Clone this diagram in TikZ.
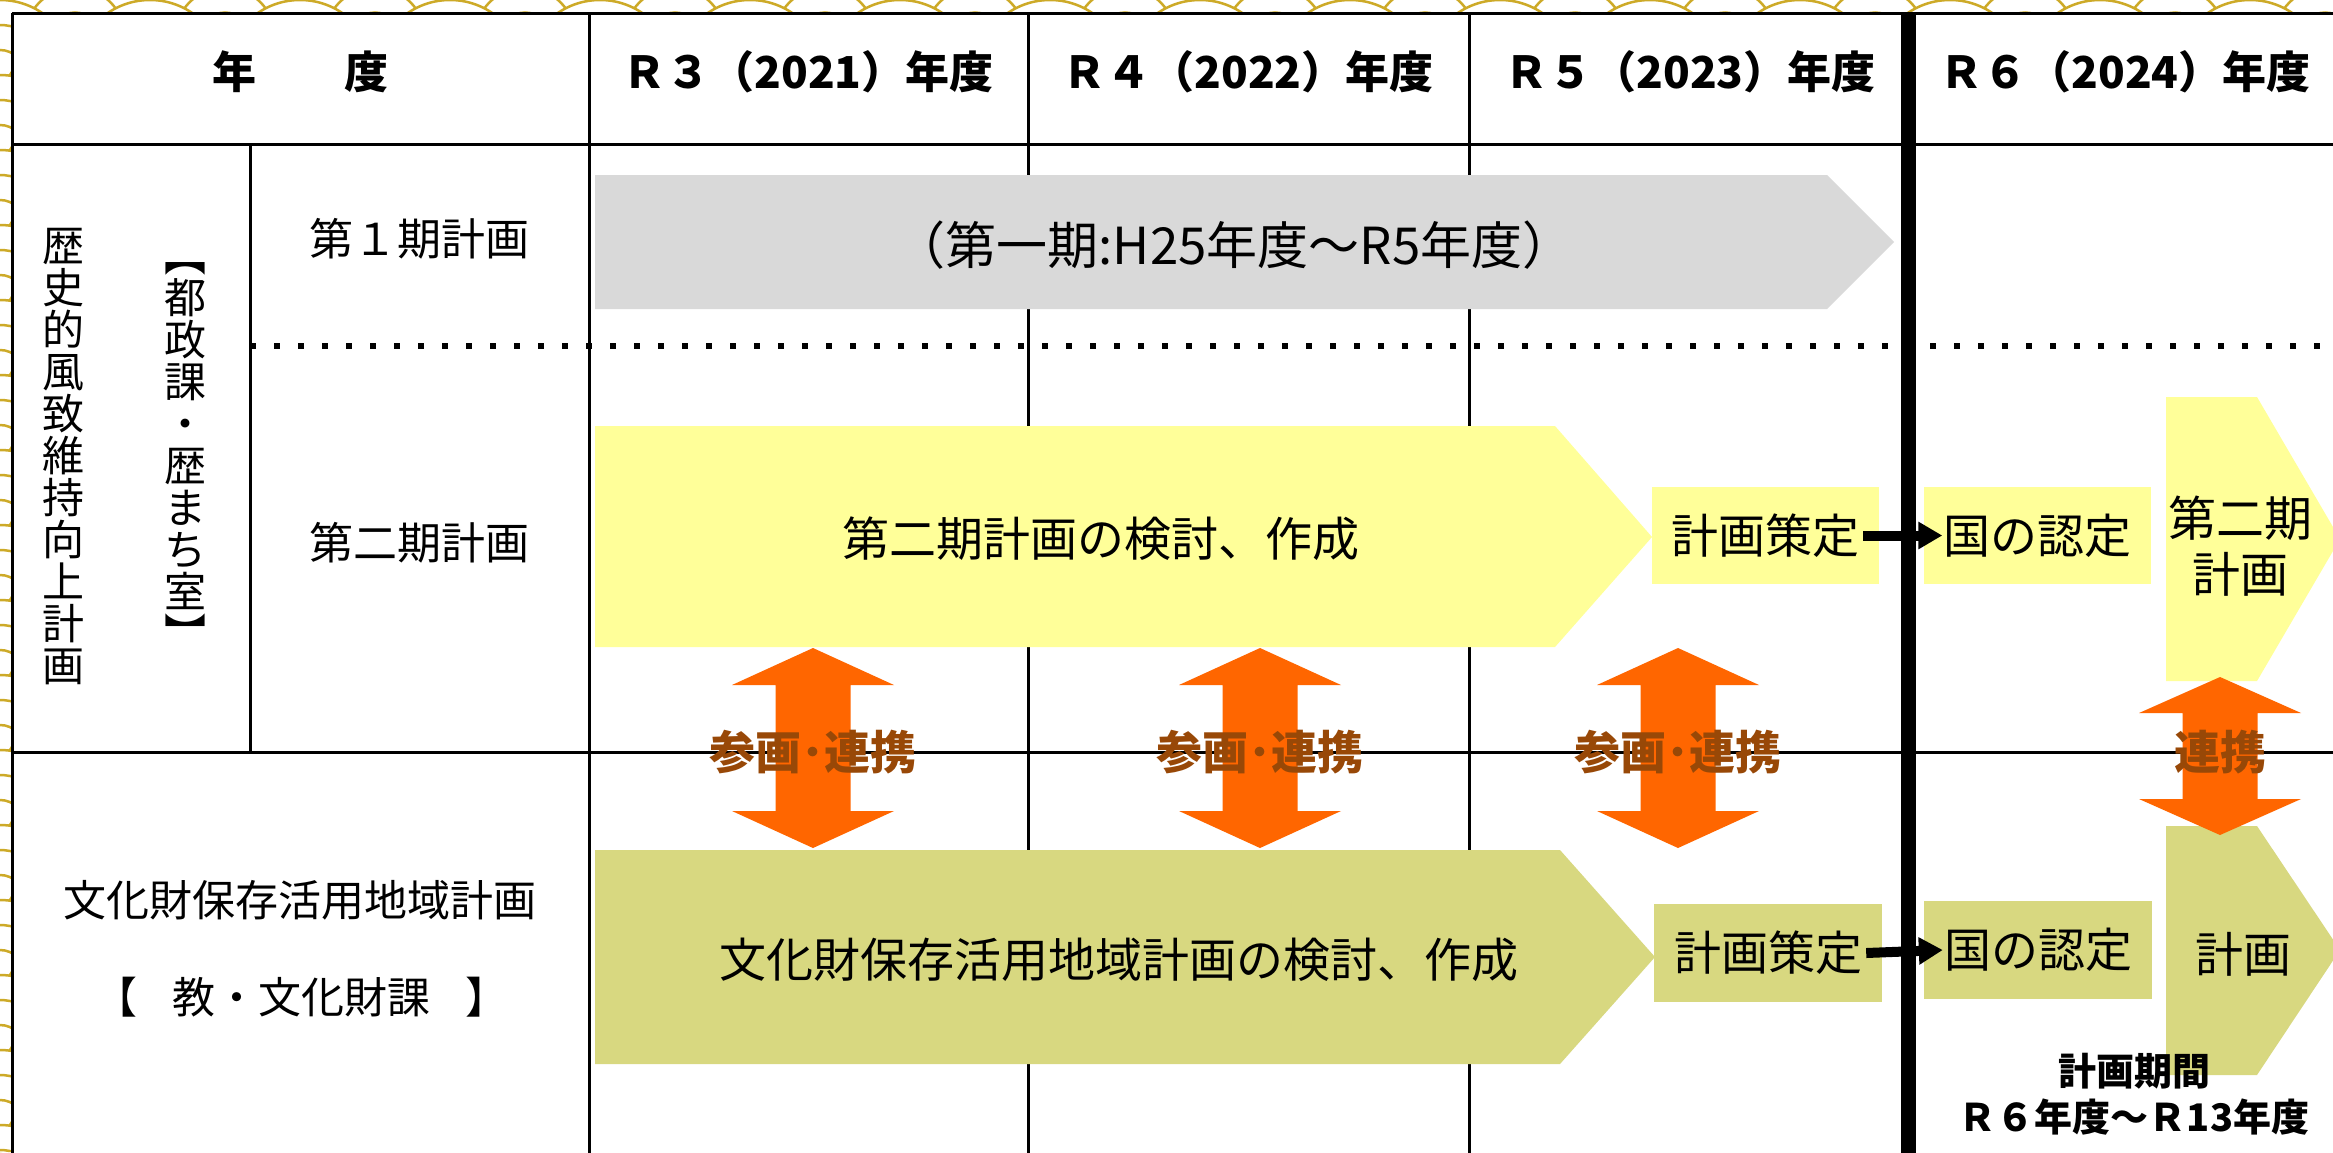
\documentclass[tikz,border=0pt]{standalone}
\usepackage{fontspec}
\setmainfont{Noto Sans CJK JP}
\usetikzlibrary{arrows.meta}
\definecolor{gold}{HTML}{CDAA28}
\definecolor{lgray}{HTML}{D9D9D9}
\definecolor{yell}{HTML}{FFFF99}
\definecolor{olv}{HTML}{D8D880}
\definecolor{orng}{HTML}{FF6600}
\definecolor{brn}{HTML}{984807}
\newcommand\orangedbl[4]{%
  \fill[orng] (#1,#2) -- ({#1+81},{#2+#4}) -- ({#1+37.5},{#2+#4}) -- ({#1+37.5},{#3-#4}) -- ({#1+81},{#3-#4}) -- (#1,#3) -- ({#1-81},{#3-#4}) -- ({#1-37.5},{#3-#4}) -- ({#1-37.5},{#2+#4}) -- ({#1-81},{#2+#4}) -- cycle;}
\begin{document}
\begin{tikzpicture}[x=1pt,y=-1pt,
  gridline/.style={line width=3pt,black},
  lbl/.style={inner sep=0pt,font=\fontsize{44}{44}\selectfont},
  hdr/.style={inner sep=0pt,font=\fontsize{44}{44}\selectfont\bfseries},
  big/.style={inner sep=0pt,font=\fontsize{47}{47}\selectfont},
  stepbox/.style={inner sep=0pt,minimum width=227pt,minimum height=97pt,font=\fontsize{47}{47}\selectfont},
  link/.style={inner sep=0pt,text=brn,font=\fontsize{46}{46}\selectfont\bfseries},
  conn/.style={line width=10pt,-{Triangle[length=24pt,width=26pt]}},
  vert/.style={inner sep=0pt,align=center,font=\fontsize{42}{42}\selectfont},
  ring/.style={draw=gold,line width=2.5pt},
]
\useasboundingbox (0,0) rectangle (2333,1152);
\fill[white] (0,0) rectangle (2333,1152);
% seigaiha border pattern
\begin{scope}
\clip (0,0) rectangle (2333,13) (0,13) rectangle (12,1152);
\foreach \j in {-3,...,3}{
  \foreach \i in {-1,...,16}{
    \pgfmathsetmacro\cx{\i*150+mod(\j+10,2)*75}
    \pgfmathsetmacro\cy{\j*37.5}
    \filldraw[fill=white,ring] (\cx,\cy) circle[radius=75];
    \draw[ring] (\cx,\cy) circle[radius=50] (\cx,\cy) circle[radius=25];
  }}
\foreach \j in {4,...,33}{
  \foreach \i in {-1,0,1}{
    \pgfmathsetmacro\cx{\i*150+mod(\j,2)*75}
    \pgfmathsetmacro\cy{\j*37.5}
    \filldraw[fill=white,ring] (\cx,\cy) circle[radius=75];
    \draw[ring] (\cx,\cy) circle[radius=50] (\cx,\cy) circle[radius=25];
  }}
\end{scope}
\fill[white] (12,13) rectangle (2333,1152);
% grid
\draw[gridline] (12,13) -- (2340,13);
\draw[gridline] (12,13) -- (12,1160);
\draw[gridline] (12,144) -- (2340,144);
\draw[gridline] (12,752) -- (2340,752);
\draw[gridline] (250,144) -- (250,752);
\foreach \x in {589,1028,1469} \draw[gridline] (\x,13) -- (\x,1160);
\draw[line width=15pt] (1908,13) -- (1908,1160);
\draw[line width=6pt,dash pattern=on 6pt off 18pt] (250,346) -- (2340,346);
% header
\node[hdr] (h0) at (300,72) {年　　度};
\node[hdr] (h1) at (808,72) {Ｒ３（2021）年度};
\node[hdr] (h2) at (1248,72) {Ｒ４（2022）年度};
\node[hdr] (h3) at (1690,72) {Ｒ５（2023）年度};
\node[hdr] (h4) at (2125,72) {Ｒ６（2024）年度};
% left labels
\node[vert] (rekishi) at (63,457) {歴\\史\\的\\風\\致\\維\\持\\向\\上\\計\\画};
\node[vert] (tosei) at (185,456) {︻\\都\\政\\課\\・\\歴\\ま\\ち\\室\\︼};
\node[lbl] (ki1) at (419,239) {第１期計画};
\node[lbl] (ki2) at (419,543) {第二期計画};
\node[lbl,font=\fontsize{43}{43}\selectfont] (bunka) at (300,900) {文化財保存活用地域計画};
\node[lbl,font=\fontsize{43}{43}\selectfont] (kyo) at (301,997) {【　\hspace{-8pt}教・文化財課　\hspace{-8pt}】};
% big arrows
\fill[lgray] (595,175) -- (1827,175) -- (1894,242) -- (1827,309) -- (595,309) -- cycle;
\fill[yell] (595,426) -- (1555,426) -- (1652,537) -- (1555,647) -- (595,647) -- cycle;
\fill[olv] (595,850) -- (1560,850) -- (1655,957) -- (1560,1064) -- (595,1064) -- cycle;
\fill[yell] (2166,397) -- (2257,397) -- (2340,539) -- (2257,681) -- (2166,681) -- cycle;
\fill[olv] (2166,826) -- (2257,826) -- (2340,950) -- (2257,1075) -- (2166,1075) -- cycle;
\node[big,font=\fontsize{51}{51}\selectfont] (t1) at (1234,245) {（第一期:H25年度～R5年度）};
\node[big] (t2) at (1101,539) {第二期計画の検討、作成};
\node[big] (t3) at (1119,960) {文化財保存活用地域計画の検討、作成};
\node[big,align=center,font=\fontsize{48}{56}\selectfont] (t4) at (2240,546) {第二期\\計画};
\node[big,font=\fontsize{48}{48}\selectfont] (t5) at (2243,954) {計画};
% step boxes
\node[stepbox,fill=yell] (kk1) at (1765.5,535.5) {計画策定};
\node[stepbox,fill=yell] (kn1) at (2037,535.5) {国の認定};
\node[stepbox,fill=olv,minimum width=228pt,minimum height=98pt] (kk2) at (1768,953) {計画策定};
\node[stepbox,fill=olv,minimum width=228pt,minimum height=98pt] (kn2) at (2038,950) {国の認定};
\draw[conn] ([xshift=-16pt]kk1.east) -- ([xshift=19pt]kn1.west);
\draw[conn] ([xshift=-16pt]kk2.east) -- ([xshift=19pt]kn2.west);
% orange double arrows
\orangedbl{813}{648}{848}{37}
\orangedbl{1260}{648}{848}{37}
\orangedbl{1678}{648}{848}{37}
\orangedbl{2220}{677}{835}{36}
\node[link] (l1) at (813,752) {参画･連携};
\node[link] (l2) at (1260,752) {参画･連携};
\node[link] (l3) at (1678,752) {参画･連携};
\node[link] (l4) at (2220,752) {連携};
% period
\node[inner sep=0pt,align=center,font=\fontsize{38}{46}\selectfont\bfseries] (period) at (2134,1094) {計画期間\\Ｒ６年度～Ｒ13年度};
\end{tikzpicture}
\end{document}
